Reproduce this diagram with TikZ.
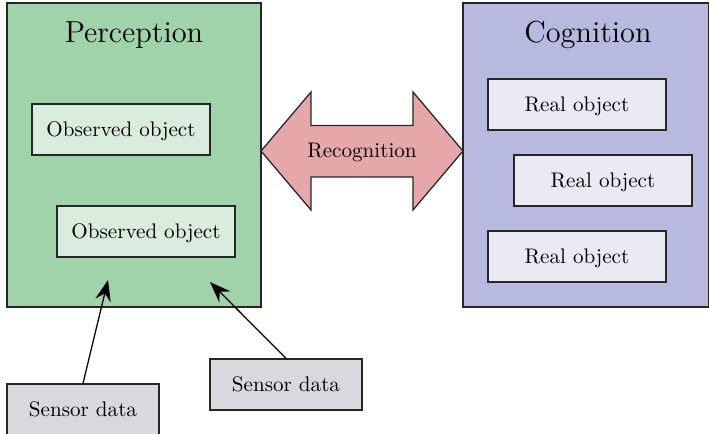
\documentclass[tikz,border=0pt]{standalone}
\usepackage{tikz}
\usetikzlibrary{positioning, arrows.meta}

\definecolor{percgreen}{RGB}{161,211,170}
\definecolor{obsgreen}{RGB}{217,236,222}
\definecolor{cognblue}{RGB}{184,185,222}
\definecolor{realblue}{RGB}{234,234,245}
\definecolor{recogred}{RGB}{229,167,170}
\definecolor{sensgray}{RGB}{216,217,220}

\begin{document}
\begin{tikzpicture}[
    x=0.4739pt, y=-0.4739pt,
    % Styles
    panel/.style={draw=black!85, line width=0.6pt, inner sep=0pt, minimum width=120.4pt, minimum height=144.1pt},
    title/.style={font=\Large, text depth=0pt},
    obsbox/.style={draw=black!85, line width=0.6pt, fill=obsgreen, inner sep=0pt, text depth=0pt, minimum width=84.4pt, minimum height=24.2pt},
    realbox/.style={draw=black!85, line width=0.6pt, fill=realblue, inner sep=0pt, text depth=0pt, minimum width=84.4pt, minimum height=24.2pt},
    sensbox/.style={draw=black!85, line width=0.6pt, fill=sensgray, inner sep=0pt, minimum width=72pt, minimum height=24.2pt},
    bigarrow/.style={draw=black!85, line width=0.6pt, fill=recogred},
    feed/.style={-{Stealth[length=10pt, width=7.5pt, inset=3.5pt]}, line width=0.6pt},
]
\useasboundingbox (0,0) rectangle (709,434);

% Perception side
\node[panel, fill=percgreen] (perc) at (134,155) {};
\node[title] (perctitle) at (134,32) {Perception};
\node[obsbox] (obs1) at (121,129.5) {Observed object};
\node[obsbox] (obs2) at (146,231.5) {Observed object};

% Cognition side
\node[panel, fill=cognblue, minimum width=116.6pt] (cogn) at (586,155) {};
\node[title] (cogntitle) at (588,32) {Cognition};
\node[realbox] (real1) at (577,104.5) {Real object};
\node[realbox] (real2) at (603,180.5) {Real object};
\node[realbox] (real3) at (577,256.5) {Real object};

% Recognition arrow
\draw[bigarrow] (261,151) -- (311,92) -- (311,125.5) -- (413,125.5) -- (413,92)
    -- (463,151) -- (413,210) -- (413,177) -- (311,177) -- (311,210) -- cycle;
\node (recog) at (362,152) {Recognition};

% Sensor data
\node[sensbox] (sens1) at (83,409.5) {Sensor data};
\node[sensbox] (sens2) at (286,384.5) {Sensor data};
\coordinate (in1) at (108,280);
\coordinate (in2) at (210,282);
\draw[feed] (sens1.north) -- (in1);
\draw[feed] (sens2.north) -- (in2);

\end{tikzpicture}
\end{document}
